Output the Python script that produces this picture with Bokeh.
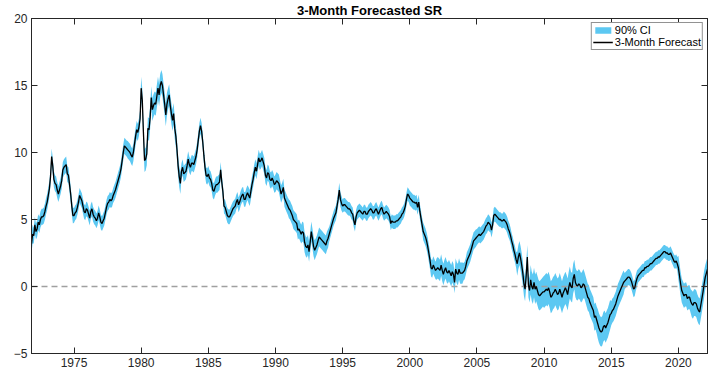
from bokeh.plotting import figure
from bokeh.models import Range1d, FixedTicker, LinearAxis, Legend, LegendItem, ColumnDataSource
from bokeh.embed import file_html
from bokeh.resources import INLINE

# ---------------- data ----------------
start_year, start_month = 1971, 11   # monthly series, Nov 1971 .. Mar 2022

forecast = [
    3.2, 3.9,                                                            # 1971 (Nov-Dec)
    3.8, 4.6, 4.1, 4.3, 4.8, 4.6, 5.0, 5.2, 5.2, 5.3, 5.6, 6.0,          # 1972
    6.3, 6.8, 7.3, 8.2, 9.7, 9.0, 8.0, 7.7, 7.6, 7.2, 6.9, 7.2,          # 1973
    7.5, 7.9, 8.7, 8.9, 9.0, 9.1, 8.4, 8.3, 7.6, 6.9, 6.0, 5.3,          # 1974
    5.3, 5.5, 5.6, 5.9, 6.3, 6.8, 6.6, 6.4, 6.0, 5.6, 5.5, 5.8,          # 1975
    5.7, 5.4, 5.1, 5.6, 5.8, 5.4, 5.2, 5.1, 4.9, 5.1, 5.5, 5.2,          # 1976
    4.8, 4.7, 4.9, 5.1, 5.5, 5.9, 6.2, 6.3, 6.5, 6.4, 6.5, 6.8,          # 1977
    7.0, 7.2, 7.5, 7.8, 8.1, 8.4, 8.8, 9.4, 10.0, 10.5, 10.4, 10.3,      # 1978
    10.2, 10.1, 10.0, 9.8, 9.65, 10.0, 10.6, 11.2, 11.7, 11.5, 11.9, 12.5,  # 1979
    14.8, 13.9, 11.5, 9.4, 9.5, 9.9, 11.8, 11.7, 12.6, 14.1, 13.2, 13.5,  # 1980
    13.7, 13.6, 14.2, 14.8, 14.3, 15.0, 15.3, 15.0, 14.3, 13.6, 12.8, 13.6,  # 1981
    14.0, 14.3, 13.5, 12.9, 12.4, 12.9, 11.8, 11.2, 10.2, 9.0, 8.2, 7.7,  # 1982
    8.6, 8.9, 8.4, 8.5, 8.6, 9.0, 9.5, 9.1, 8.9, 9.2, 9.2, 9.1,          # 1983
    9.4, 9.7, 10.2, 10.9, 11.6, 12.0, 11.6, 10.8, 9.8, 8.9, 8.3, 8.2,    # 1984
    8.4, 8.1, 8.0, 7.7, 7.2, 7.1, 7.4, 7.6, 7.6, 7.7, 7.8, 8.7,          # 1985
    7.8, 7.1, 6.0, 5.9, 5.6, 5.3, 5.2, 5.2, 5.4, 5.6, 5.8, 5.9,          # 1986
    6.0, 6.3, 6.5, 6.1, 6.3, 6.6, 6.8, 6.9, 6.5, 6.5, 6.8, 7.0,          # 1987
    6.8, 6.6, 7.1, 7.6, 8.0, 8.5, 8.9, 8.6, 9.1, 9.6, 9.3, 9.4,          # 1988
    9.6, 9.3, 9.0, 8.3, 8.1, 8.5, 8.4, 8.0, 7.9, 8.1, 7.9, 7.6,          # 1989
    7.7, 7.9, 7.8, 7.7, 7.3, 6.9, 7.1, 7.4, 6.6, 6.4, 6.2, 6.0,          # 1990
    5.8, 5.7, 5.5, 5.3, 5.0, 4.9, 4.8, 4.7, 4.2, 4.3, 4.1, 3.9,          # 1991
    4.1, 4.0, 3.3, 3.0, 2.9, 3.1, 2.6, 3.3, 4.1, 3.6, 3.0, 2.7,          # 1992
    2.9, 3.1, 3.4, 3.7, 3.6, 3.5, 3.4, 3.3, 3.2, 3.1, 3.4, 3.6,          # 1993
    3.9, 4.2, 4.5, 4.8, 5.1, 5.3, 5.5, 6.0, 6.5, 7.2, 6.5, 6.2,          # 1994
    6.0, 6.1, 6.1, 6.0, 5.9, 5.8, 5.8, 5.7, 5.5, 5.4, 4.9, 4.6,          # 1995
    5.2, 5.5, 5.6, 5.7, 5.6, 5.5, 5.4, 5.6, 5.6, 5.4, 5.4, 5.6,          # 1996
    5.7, 5.8, 5.7, 5.5, 5.5, 5.7, 5.8, 5.6, 5.4, 5.6, 5.8, 5.9,          # 1997
    5.6, 5.4, 5.5, 5.6, 5.5, 5.4, 5.2, 4.7, 4.9, 4.8, 4.8, 4.8,          # 1998
    4.9, 4.9, 5.0, 5.1, 5.2, 5.4, 5.5, 5.7, 6.0, 6.5, 6.9, 6.8,          # 1999
    6.6, 6.5, 6.4, 6.3, 6.3, 6.2, 6.3, 5.9, 6.3, 5.6, 5.1, 4.6,          # 2000
    4.1, 3.9, 3.7, 3.4, 3.0, 2.5, 2.0, 1.4, 1.3, 1.6, 1.4, 1.2,          # 2001
    1.3, 1.4, 1.3, 1.2, 1.6, 1.2, 0.9, 1.2, 1.4, 1.1, 1.0, 1.2,          # 2002
    1.0, 0.8, 1.1, 0.9, 0.3, 1.3, 1.0, 0.9, 1.3, 1.0, 1.0, 1.0,          # 2003
    1.1, 1.2, 1.5, 1.9, 2.1, 2.3, 2.5, 2.8, 3.1, 3.4, 3.5, 3.6,          # 2004
    3.7, 3.8, 3.9, 3.8, 3.9, 4.0, 4.1, 4.3, 4.5, 4.6, 4.8, 4.7,          # 2005
    4.6, 4.2, 4.6, 5.3, 5.4, 5.3, 5.2, 5.1, 5.0, 5.0, 4.9, 4.9,          # 2006
    5.0, 4.9, 4.8, 4.6, 4.3, 4.1, 3.8, 3.4, 3.1, 2.7, 2.4, 2.0,          # 2007
    1.7, 2.2, 2.5, 2.1, 1.6, 1.0, 0.2, -0.2, 0.8, 2.2, 0.1, -0.3,        # 2008
    0.5, 0.0, -0.2, 0.3, -0.2, 0.0, -0.3, -0.6, -0.7, -0.6, -0.5, -0.4,  # 2009
    -0.4, -0.3, -0.2, -0.3, -0.1, -0.4, -0.8, -0.7, -0.5, -0.4, -0.2, -0.4,  # 2010
    -0.6, -0.5, -0.2, -0.5, -0.8, -0.5, -0.3, -0.1, -0.3, -0.6, -0.1, 0.3,   # 2011
    0.0, -0.1, 0.6, 0.9, 0.3, 0.1, 0.05, 0.2, 0.1, -0.1, 0.0, 0.2,       # 2012
    0.1, -0.2, -0.5, -0.8, -0.9, -1.2, -1.4, -1.6, -1.8, -2.3, -2.2, -2.5,  # 2013
    -2.8, -3.1, -3.3, -3.4, -3.3, -3.0, -2.9, -3.1, -2.9, -2.7, -2.4, -2.1,  # 2014
    -2.0, -1.8, -1.7, -1.5, -1.3, -1.0, -0.7, -0.5, -0.3, -0.1, 0.1, 0.3,   # 2015
    0.4, 0.5, 0.6, 0.7, 0.7, 0.6, 0.4, 0.1, -0.2, -0.1, 0.3, 0.6,        # 2016
    0.8, 0.9, 1.0, 1.1, 1.2, 1.2, 1.4, 1.4, 1.5, 1.5, 1.6, 1.7,          # 2017
    1.7, 1.8, 1.9, 2.0, 2.1, 2.1, 2.2, 2.2, 2.3, 2.4, 2.5, 2.6,          # 2018
    2.6, 2.5, 2.5, 2.4, 2.4, 2.5, 2.3, 2.1, 1.9, 1.8, 1.9, 1.7,          # 2019
    1.4, 0.8, 0.2, -0.3, -0.5, -0.7, -0.6, -0.6, -0.9, -0.8, -0.8, -1.1,  # 2020
    -1.3, -1.4, -1.2, -1.2, -1.3, -1.6, -1.8, -1.9, -1.4, -0.9, -0.4, 0.2,  # 2021
    0.7, 1.0, 1.3,                                                       # 2022 (Jan-Mar)
]

# half-width of the 90% confidence band, one value per calendar year 1971..2022
ci_years = list(range(1971, 2023))
ci_half = [
    0.7, 0.6, 0.6, 0.6, 0.55, 0.55, 0.55, 0.6, 0.65,          # 1971-1979
    0.85, 0.85, 0.8, 0.6, 0.6, 0.6, 0.55, 0.55, 0.6, 0.6,     # 1980-1989
    0.65, 0.7, 0.75, 0.7, 0.55, 0.5, 0.5, 0.5, 0.5, 0.5,      # 1990-1999
    0.55, 0.65, 0.8, 0.8, 0.65, 0.6, 0.55, 0.6, 0.9, 1.1,     # 2000-2009
    1.2, 1.2, 1.1, 1.0, 1.1, 0.9, 0.6, 0.5, 0.5, 0.5,         # 2010-2019
    0.9, 1.0, 0.9,                                            # 2020-2022
]

x_ticks = [1975, 1980, 1985, 1990, 1995, 2000, 2005, 2010, 2015, 2020]
y_ticks = [-5, 0, 5, 10, 15, 20]
y_min, y_max = -5, 20

# ---------------- build the table ----------------
n = len(forecast)
t = [start_year + (start_month - 1 + i) / 12.0 for i in range(n)]
yr = [start_year + (start_month - 1 + i) // 12 for i in range(n)]
half_lookup = dict(zip(ci_years, ci_half))
lower = [f - half_lookup[y] for f, y in zip(forecast, yr)]
upper = [f + half_lookup[y] for f, y in zip(forecast, yr)]
src = ColumnDataSource(dict(t=t, f=forecast, lo=lower, hi=upper, zero=[0.0] * n))

FONT = "Liberation Sans"
AX = "#262626"

p = figure(width=713, height=375, output_backend="svg", toolbar_location=None,
           x_range=Range1d(t[0], t[-1]), y_range=Range1d(y_min, y_max),
           min_border_left=31, min_border_right=6, min_border_top=17, min_border_bottom=22,
           background_fill_color="white", border_fill_color="white")
p.xgrid.visible = False
p.ygrid.visible = False
p.outline_line_color = AX
p.outline_line_width = 1

p.title.text = "3-Month Forecasted SR"
p.title.align = "center"
p.title.text_font = FONT
p.title.text_font_style = "bold"
p.title.text_font_size = "13px"
p.title.text_color = "black"
p.title.standoff = 1
p.title.offset = 0

band = p.varea(x="t", y1="lo", y2="hi", source=src, fill_color="#5CC8F2", fill_alpha=1.0)
zero_line = p.line(x="t", y="zero", source=src, line_color="#A0A0A0", line_width=1.5, line_dash="6 4")
fc_line = p.line(x="t", y="f", source=src, line_color="black", line_width=1.3)

xaxis = p.xaxis[0]
yaxis = p.yaxis[0]
xaxis.ticker = FixedTicker(ticks=x_ticks)
yaxis.ticker = FixedTicker(ticks=y_ticks)
for ax in (xaxis, yaxis):
    ax.axis_line_color = AX
    ax.major_tick_line_color = AX
    ax.major_tick_in = 6
    ax.major_tick_out = 0
    ax.minor_tick_line_color = None
    ax.major_label_text_font = FONT
    ax.major_label_text_color = AX
    ax.major_label_text_font_size = "12px"
    ax.major_label_standoff = 4

top_ax = LinearAxis(ticker=FixedTicker(ticks=x_ticks))
right_ax = LinearAxis(ticker=FixedTicker(ticks=y_ticks))
for ax in (top_ax, right_ax):
    ax.axis_line_color = AX
    ax.major_tick_line_color = AX
    ax.major_tick_in = 6
    ax.major_tick_out = 0
    ax.minor_tick_line_color = None
    ax.major_label_text_font_size = "1px"
    ax.major_label_text_color = None
    ax.major_label_standoff = 0
p.add_layout(top_ax, "above")
p.add_layout(right_ax, "right")

legend = Legend(items=[LegendItem(label="90% CI", renderers=[band]),
                       LegendItem(label="3-Month Forecast", renderers=[fc_line])],
                location="top_right", margin=4, padding=1, spacing=0,
                label_standoff=2, glyph_width=20, glyph_height=8, label_height=9,
                label_text_font=FONT, label_text_font_size="11px", label_text_color="black",
                label_text_line_height=0.9,
                border_line_color=AX, border_line_width=1, background_fill_alpha=1.0)
p.add_layout(legend)

open("out.html", "w").write(file_html(p, INLINE))
